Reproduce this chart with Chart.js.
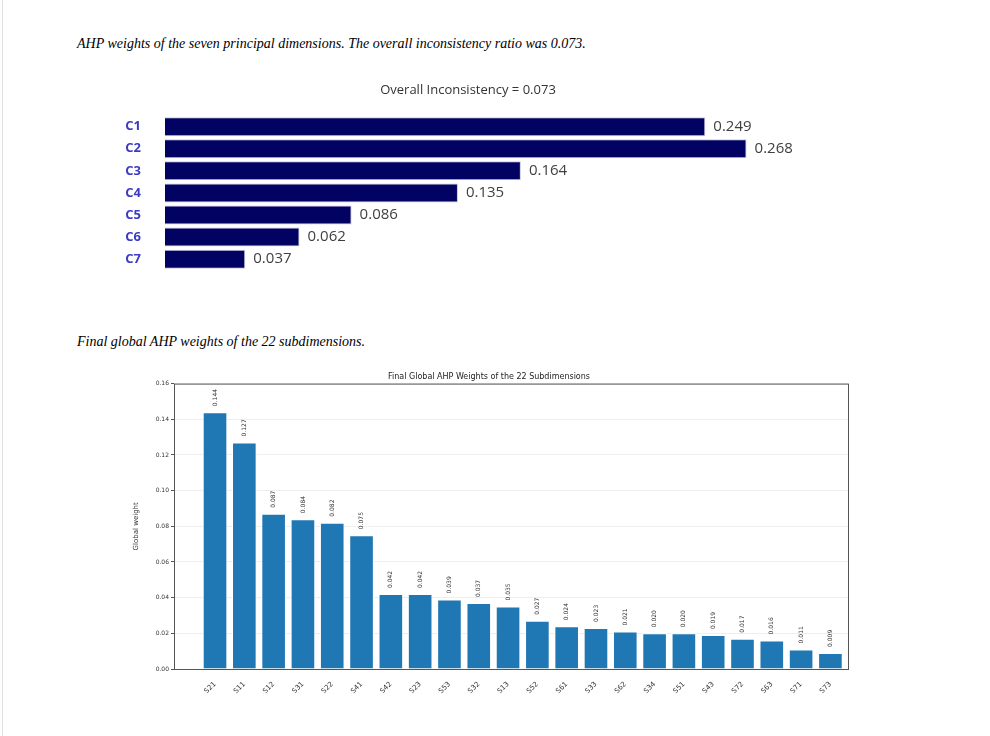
<!DOCTYPE html>
<html>
<head>
<meta charset="utf-8">
<script src="https://cdn.jsdelivr.net/npm/chart.js@4"></script>
<style>
  body { margin: 0; background: #fff; width: 990px; height: 736px; position: relative; overflow: hidden; }
  .frame { position: absolute; left: 2px; top: 0; width: 1px; height: 736px; background: #e0e0e0; }
  .cap { position: absolute; left: 77px; font: italic 14px "Liberation Serif", serif; color: #000; }
  .box { position: absolute; }
</style>
</head>
<body>
<div class="frame"></div>
<div class="cap" style="top:36px">AHP weights of the seven principal dimensions. The overall inconsistency ratio was 0.073.</div>
<div class="box" style="left:120px;top:80px;width:710px;height:214px"><canvas id="top"></canvas></div>
<div class="cap" style="top:334px">Final global AHP weights of the 22 subdimensions.</div>
<div class="box" style="left:130px;top:366px;width:730px;height:340px"><canvas id="bottom"></canvas></div>
<script>
const dimLabels = ["C1", "C2", "C3", "C4", "C5", "C6", "C7"];
const dimWeights = [0.249, 0.268, 0.164, 0.135, 0.086, 0.062, 0.037];

const subLabels = ["S21", "S11", "S12", "S31", "S22", "S41", "S42", "S23", "S53", "S32", "S13",
  "S52", "S61", "S33", "S62", "S34", "S51", "S43", "S72", "S63", "S71", "S73"];
const subWeights = [0.144, 0.127, 0.087, 0.084, 0.082, 0.075, 0.042, 0.042, 0.039, 0.037, 0.035,
  0.027, 0.024, 0.023, 0.021, 0.020, 0.020, 0.019, 0.017, 0.016, 0.011, 0.009];
const subTicks = [0, 0.02, 0.04, 0.06, 0.08, 0.10, 0.12, 0.14, 0.16];

// value text at the end of each horizontal bar
const hLabels = {
  id: "hLabels",
  afterDatasetsDraw(chart) {
    const ctx = chart.ctx;
    ctx.save();
    ctx.font = "15px 'Open Sans', sans-serif";
    ctx.fillStyle = "#404040";
    ctx.textBaseline = "middle";
    chart.getDatasetMeta(0).data.forEach((bar, i) => {
      ctx.fillText(dimWeights[i].toFixed(3), bar.x + 8, bar.y);
    });
    ctx.restore();
  }
};

// rotated value text above each column, plus the axes frame
const vLabels = {
  id: "vLabels",
  afterDatasetsDraw(chart) {
    const ctx = chart.ctx;
    const a = chart.chartArea;
    ctx.save();
    ctx.strokeStyle = "#555";
    ctx.lineWidth = 1;
    ctx.strokeRect(a.left + 0.5, a.top + 0.5, a.right - a.left, a.bottom - a.top);
    ctx.font = "6px 'DejaVu Sans', sans-serif";
    ctx.fillStyle = "#333";
    ctx.textBaseline = "middle";
    chart.getDatasetMeta(0).data.forEach((bar, i) => {
      ctx.save();
      ctx.translate(bar.x, bar.y - 6);
      ctx.rotate(-Math.PI / 2);
      ctx.fillText(subWeights[i].toFixed(3), 0, 0);
      ctx.restore();
    });
    ctx.restore();
  }
};

new Chart(document.getElementById("top"), {
  type: "bar",
  data: {
    labels: dimLabels,
    datasets: [{ data: dimWeights, backgroundColor: "#020263", borderColor: "#c8c8e0", borderWidth: 1,
      barPercentage: 0.86, categoryPercentage: 1 }]
  },
  options: {
    indexAxis: "y",
    responsive: true,
    maintainAspectRatio: false,
    animation: false,
    layout: { padding: { right: 14, top: 0, bottom: 4 } },
    plugins: {
      legend: { display: false },
      tooltip: { enabled: false },
      title: { display: true, text: "Overall Inconsistency = 0.073", color: "#333",
        font: { family: "'Open Sans', sans-serif", size: 13, weight: "normal" }, padding: { top: 2, bottom: 18 } }
    },
    scales: {
      x: { display: false, min: 0, max: 0.3 },
      y: {
        afterFit(s) { s.width = 45; },
        grid: { display: false }, border: { display: false },
        ticks: { color: "#3b3bc4", padding: 16, font: { family: "'Open Sans', sans-serif", size: 13, weight: "bold" } }
      }
    }
  },
  plugins: [hLabels]
});

new Chart(document.getElementById("bottom"), {
  type: "bar",
  data: {
    datasets: [{ data: subWeights.map((v, i) => ({ x: i, y: v })), backgroundColor: "#1f77b4",
      borderColor: "#ffffff", borderWidth: 1, barPercentage: 0.84, categoryPercentage: 1 }]
  },
  options: {
    responsive: true,
    maintainAspectRatio: false,
    animation: false,
    layout: { padding: { right: 12, top: 0 } },
    plugins: {
      legend: { display: false },
      tooltip: { enabled: false },
      title: { display: true, text: "Final Global AHP Weights of the 22 Subdimensions", color: "#222",
        font: { family: "'DejaVu Sans', sans-serif", size: 8, weight: "normal" }, padding: { top: 6, bottom: 2 } }
    },
    scales: {
      x: {
        type: "linear", min: -1.4, max: 21.6, offset: false,
        afterFit(s) { s.height = 37; },
        afterBuildTicks(s) { s.ticks = subLabels.map((_, i) => ({ value: i })); },
        grid: { display: false },
        ticks: { color: "#333", autoSkip: false, maxRotation: 45, minRotation: 45,
          font: { family: "'DejaVu Sans', sans-serif", size: 7 }, callback: v => subLabels[v] }
      },
      y: {
        min: 0, max: 0.16,
        afterFit(s) { s.width = 44; },
        afterBuildTicks(s) { s.ticks = subTicks.map(v => ({ value: v })); },
        grid: { color: "#eeeeee", tickColor: "#555", tickLength: 3 },
        title: { display: true, text: "Global weight", color: "#333", padding: 2,
          font: { family: "'DejaVu Sans', sans-serif", size: 7 } },
        ticks: { color: "#333", padding: 2, font: { family: "'DejaVu Sans', sans-serif", size: 6 },
          callback: v => v.toFixed(2) }
      }
    }
  },
  plugins: [vLabels]
});
</script>
</body>
</html>
